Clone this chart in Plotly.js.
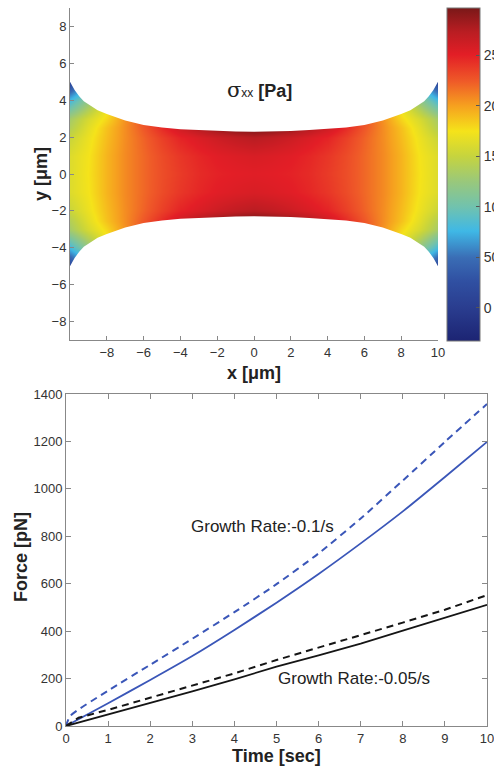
<!DOCTYPE html>
<html><head><meta charset="utf-8">
<script src="https://cdn.plot.ly/plotly-3.0.1.min.js"></script>
<style>html,body{margin:0;padding:0;background:#fff;overflow:hidden;}#chart{width:520px;height:769px;}</style>
</head><body><div id="chart"></div>
<script>
// ---------- Top panel: sigma_xx field (Pa) read on a coarse grid ----------
const fieldX = [-10,-9,-8,-7,-6,-5,-4,-3,-2,-1,0,1,2,3,4,5,6,7,8,9,10];
const fieldY = [-5,-4,-3,-2.5,-2,-1,0,1,2,2.5,3,4,5];
const rowY5   = [12,60,150,200,230,250,262,276,288,296,300,296,288,276,262,250,230,200,150,60,12];
const rowY4   = [80,120,165,200,230,250,262,276,288,296,300,296,288,276,262,250,230,200,165,120,80];
const rowY3   = [132,158,180,205,230,248,262,276,288,296,300,296,288,276,262,248,230,205,180,158,132];
const rowY25  = [140,165,188,207,226,245,262,276,288,296,300,296,288,276,262,245,226,207,188,165,140];
const rowY2   = [152,170,190,207,222,236,248,256,263,269,273,269,263,256,248,236,222,207,190,170,152];
const rowY1   = [162,174,193,208,220,231,240,247,252,255,257,255,252,247,240,231,220,208,193,174,162];
const rowY0   = [162,175,193,208,220,230,238,245,249,251,252,251,249,245,238,230,220,208,193,175,162];
const fieldZ = [rowY5,rowY4,rowY3,rowY25,rowY2,rowY1,rowY0,rowY1,rowY2,rowY25,rowY3,rowY4,rowY5];

// outline of the deformed body (upper edge; lower edge is its mirror)
const edgeX   = [-10,-9.75,-9.5,-9.25,-9,-8.5,-8,-7,-6,-5,-4,-3,-2,-1,0,1,2,3,4,5,6,7,8,8.5,9,9.25,9.5,9.75,10];
const edgeTop = [5.0,4.55,4.22,3.95,3.78,3.45,3.25,2.9,2.66,2.52,2.43,2.38,2.33,2.3,2.29,2.3,2.33,2.38,2.43,2.52,2.66,2.9,3.25,3.45,3.78,3.95,4.22,4.55,5.0];
const edgeBot = edgeTop.map(v => -v);

const cbTicks = [0,50,100,150,200,250];
const fieldTicksX = [-8,-6,-4,-2,0,2,4,6,8,10];
const fieldTicksY = [-8,-6,-4,-2,0,2,4,6,8];

// ---------- Bottom panel: force vs time ----------
const tBlueDash = [0,0.1,1,2,3,4,5,6,7,8,9,10];
const fBlueDash = [0,42,149,258,368,480,598,728,875,1035,1198,1358];
const tBlueSolid = [0,1,2,3,4,5,6,7,8,9,10];
const fBlueSolid = [0,96,194,295,405,520,641,770,905,1050,1198];
const tBlackDash = [0,0.3,1,2,3,4,5,6,7,8,9,10];
const fBlackDash = [0,35,68,120,172,222,278,330,385,436,490,552];
const tBlackSolid = [0,1,2,3,4,5,6,7,8,9,10];
const fBlackSolid = [0,48,97,146,197,250,298,347,402,455,511];

const jet = [
  [0,'#1c2473'],[0.1,'#2a3d8f'],[0.18,'#3050a2'],[0.25,'#3a6db5'],[0.33,'#3fb8e6'],
  [0.40,'#6fc2b0'],[0.48,'#9ac87a'],[0.555,'#c6d43e'],[0.63,'#f5e31a'],[0.706,'#f6a11f'],
  [0.78,'#ef5a28'],[0.86,'#e31e26'],[0.93,'#b81d22'],[1,'#7a1818']
];

const W = 520, H = 769;   // paper is wider than the 494px window so colorbar labels get cropped like the reference
const FONT = 'Liberation Sans, Arial, Helvetica, sans-serif';

// mask polygons (white) above and below the body
const XL = -10.6, XR = 10.6, YT = 9.6;
const maskTopX = edgeX.concat([XR, XR, XL, XL]);
const maskTopY = edgeTop.concat([edgeTop[edgeTop.length-1], YT, YT, edgeTop[0]]);
const maskBotX = edgeX.concat([XR, XR, XL, XL]);
const maskBotY = edgeBot.concat([edgeBot[edgeBot.length-1], -YT, -YT, edgeBot[0]]);

const traces = [
  {type:'heatmap', x:fieldX, y:fieldY, z:fieldZ, zsmooth:'best', colorscale:jet, zmin:-33, zmax:297,
   xaxis:'x', yaxis:'y', hoverinfo:'skip',
   colorbar:{x:447/W, xanchor:'left', y:1-174.5/H, yanchor:'middle', len:333/H, lenmode:'fraction',
     thickness:33, thicknessmode:'pixels', xpad:0, ypad:0, outlinewidth:1, outlinecolor:'#777',
     ticks:'inside', ticklen:4, tickcolor:'#555', tickvals:cbTicks,
     tickfont:{family:FONT, size:14, color:'#333'}}},
  {type:'scatter', mode:'lines', x:maskTopX, y:maskTopY, fill:'toself', fillcolor:'#ffffff',
   line:{width:0, color:'#ffffff'}, xaxis:'x', yaxis:'y', hoverinfo:'skip'},
  {type:'scatter', mode:'lines', x:maskBotX, y:maskBotY, fill:'toself', fillcolor:'#ffffff',
   line:{width:0, color:'#ffffff'}, xaxis:'x', yaxis:'y', hoverinfo:'skip'},
  {type:'scatter', mode:'lines', x:tBlueDash, y:fBlueDash, line:{color:'#3a56b8', width:2, dash:'7px,5px', shape:'spline', smoothing:0.6}, xaxis:'x2', yaxis:'y2'},
  {type:'scatter', mode:'lines', x:tBlueSolid, y:fBlueSolid, line:{color:'#3a56b8', width:1.8, shape:'spline', smoothing:0.6}, xaxis:'x2', yaxis:'y2'},
  {type:'scatter', mode:'lines', x:tBlackDash, y:fBlackDash, line:{color:'#151515', width:2, dash:'7px,5px'}, xaxis:'x2', yaxis:'y2'},
  {type:'scatter', mode:'lines', x:tBlackSolid, y:fBlackSolid, line:{color:'#151515', width:1.8}, xaxis:'x2', yaxis:'y2'}
];

const axBase = {showgrid:false, zeroline:false, showline:true, linecolor:'#888', linewidth:1,
  ticks:'inside', ticklen:4, tickcolor:'#888', tickfont:{family:FONT, size:13, color:'#333'}, fixedrange:true};

const layout = {
  width:W, height:H, margin:{l:0,r:0,t:0,b:0}, paper_bgcolor:'#fff', plot_bgcolor:'#fff',
  showlegend:false, font:{family:FONT, size:13, color:'#333'},
  xaxis: Object.assign({}, axBase, {domain:[70/W, 438/W], range:[-10,10], tickvals:fieldTicksX, anchor:'y'}),
  yaxis: Object.assign({}, axBase, {domain:[1-340/H, 1-8/H], range:[-9,9], tickvals:fieldTicksY, anchor:'x'}),
  xaxis2: Object.assign({}, axBase, {domain:[66/W, 487/W], range:[0,10], dtick:1, tick0:0, anchor:'y2', mirror:'ticks', ticklen:5}),
  yaxis2: Object.assign({}, axBase, {domain:[1-726/H, 1-394/H], range:[0,1400], dtick:200, tick0:0, anchor:'x2', mirror:'ticks', ticklen:5}),
  annotations: [
    {xref:'x', yref:'y', x:-1.6, y:4.55, xanchor:'left', yanchor:'middle', showarrow:false,
     text:'<span style="font-family:DejaVu Serif;font-size:21px">σ</span><span style="font-size:12px">xx</span> <b>[Pa]</b>',
     font:{family:FONT, size:18, color:'#222'}},
    {xref:'paper', yref:'paper', x:254/W, y:1-373/H, xanchor:'center', yanchor:'middle', showarrow:false,
     text:'<b>x [μm]</b>', font:{family:FONT, size:18, color:'#222'}},
    {xref:'paper', yref:'paper', x:41/W, y:1-174/H, xanchor:'center', yanchor:'middle', showarrow:false, textangle:-90,
     text:'<b>y [μm]</b>', font:{family:FONT, size:18, color:'#222'}},
    {xref:'paper', yref:'paper', x:276.5/W, y:1-756/H, xanchor:'center', yanchor:'middle', showarrow:false,
     text:'<b>Time [sec]</b>', font:{family:FONT, size:18, color:'#222'}},
    {xref:'paper', yref:'paper', x:21/W, y:1-557/H, xanchor:'center', yanchor:'middle', showarrow:false, textangle:-90,
     text:'<b>Force [pN]</b>', font:{family:FONT, size:18, color:'#222'}},
    {xref:'x2', yref:'y2', x:2.92, y:840, xanchor:'left', yanchor:'middle', showarrow:false,
     text:'Growth Rate:-0.1/s', font:{family:FONT, size:17, color:'#222'}},
    {xref:'x2', yref:'y2', x:4.99, y:202, xanchor:'left', yanchor:'middle', showarrow:false,
     text:'Growth Rate:-0.05/s', font:{family:FONT, size:17, color:'#222'}}
  ]
};

Plotly.newPlot('chart', traces, layout, {displayModeBar:false, staticPlot:true});
</script></body></html>
